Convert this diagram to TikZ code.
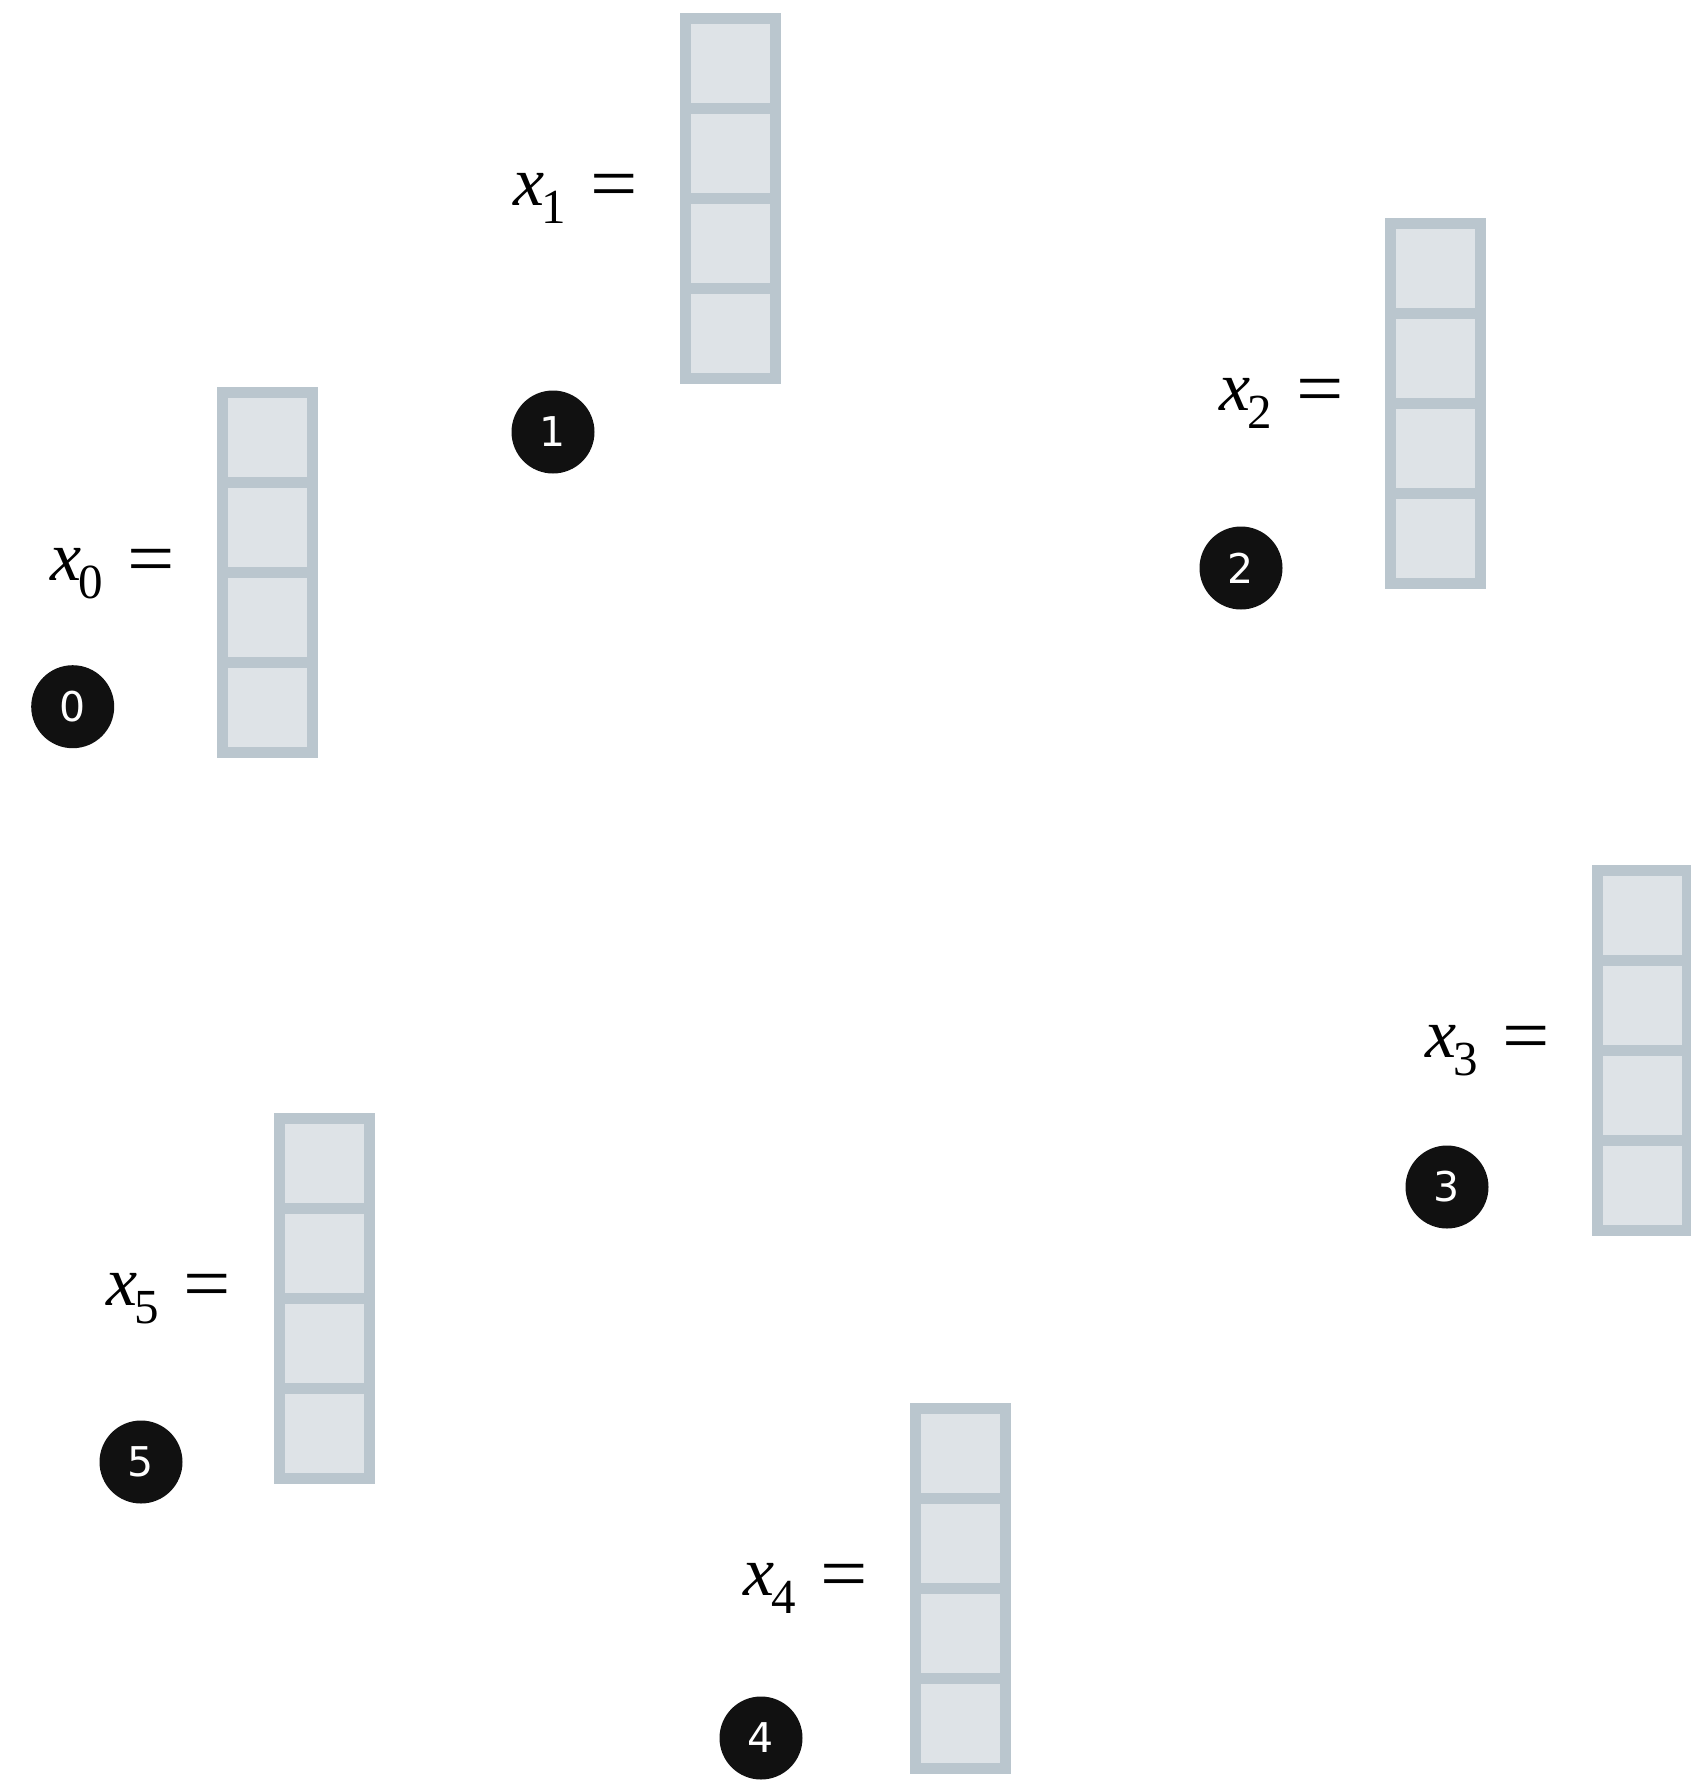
\documentclass[tikz,border=0pt]{standalone}
\usepackage{fontspec}
\usepackage{tikz}
\usetikzlibrary{positioning}
\newfontfamily\numfont{DejaVu Sans}
\newfontfamily\eqfont{Liberation Serif}
\definecolor{cellborder}{RGB}{186,198,206}
\definecolor{cellfill}{RGB}{222,227,231}
\definecolor{badgefill}{RGB}{17,17,17}

\begin{document}
\begin{tikzpicture}[
    x=1pt, y=-1pt,
    cell/.style={
        rectangle, draw=cellborder, fill=cellfill, line width=10.7pt,
        minimum size=90pt, inner sep=0pt, outer sep=0pt
    },
    lbl/.style={anchor=base east, inner sep=0pt, font=\eqfont\fontsize{70}{80}\selectfont},
    badge/.style={
        circle, fill=badgefill, minimum size=83pt, inner sep=0pt,
        text=white, font=\numfont\fontsize{41}{44}\selectfont
    },
]
\useasboundingbox (0,0) rectangle (1690,1786);

% x_0
\node[cell] (c0a) at (267.5, 437.5) {};
\node[cell, below=0pt of c0a] (c0b) {};
\node[cell, below=0pt of c0b] (c0c) {};
\node[cell, below=0pt of c0c] (c0d) {};
\node[lbl] (l0) at (175, 580) {\textit{x}\kern-3pt\raisebox{-18pt}{\fontsize{49}{50}\selectfont 0}\kern24pt\raisebox{-4pt}{\scalebox{1.2}[1.1]{=}}};
\node[badge] (b0) at (72.7, 706.7) {0};

% x_1
\node[cell] (c1a) at (730.5, 63.5) {};
\node[cell, below=0pt of c1a] (c1b) {};
\node[cell, below=0pt of c1b] (c1c) {};
\node[cell, below=0pt of c1c] (c1d) {};
\node[lbl] (l1) at (638, 205) {\textit{x}\kern-3pt\raisebox{-18pt}{\fontsize{49}{50}\selectfont 1}\kern24pt\raisebox{-4pt}{\scalebox{1.2}[1.1]{=}}};
\node[badge] (b1) at (553, 432) {1};

% x_2
\node[cell] (c2a) at (1435.5, 268.5) {};
\node[cell, below=0pt of c2a] (c2b) {};
\node[cell, below=0pt of c2b] (c2c) {};
\node[cell, below=0pt of c2c] (c2d) {};
\node[lbl] (l2) at (1344, 410) {\textit{x}\kern-3pt\raisebox{-18pt}{\fontsize{49}{50}\selectfont 2}\kern24pt\raisebox{-4pt}{\scalebox{1.2}[1.1]{=}}};
\node[badge] (b2) at (1241, 568) {2};

% x_3
\node[cell] (c3a) at (1642.5, 915.5) {};
\node[cell, below=0pt of c3a] (c3b) {};
\node[cell, below=0pt of c3b] (c3c) {};
\node[cell, below=0pt of c3c] (c3d) {};
\node[lbl] (l3) at (1550, 1057) {\textit{x}\kern-3pt\raisebox{-18pt}{\fontsize{49}{50}\selectfont 3}\kern24pt\raisebox{-4pt}{\scalebox{1.2}[1.1]{=}}};
\node[badge] (b3) at (1447, 1187) {3};

% x_4
\node[cell] (c4a) at (960.5, 1453.5) {};
\node[cell, below=0pt of c4a] (c4b) {};
\node[cell, below=0pt of c4b] (c4c) {};
\node[cell, below=0pt of c4c] (c4d) {};
\node[lbl] (l4) at (868, 1595) {\textit{x}\kern-3pt\raisebox{-18pt}{\fontsize{49}{50}\selectfont 4}\kern24pt\raisebox{-4pt}{\scalebox{1.2}[1.1]{=}}};
\node[badge] (b4) at (761, 1738) {4};

% x_5
\node[cell] (c5a) at (324.5, 1163.5) {};
\node[cell, below=0pt of c5a] (c5b) {};
\node[cell, below=0pt of c5b] (c5c) {};
\node[cell, below=0pt of c5c] (c5d) {};
\node[lbl] (l5) at (231, 1305) {\textit{x}\kern-3pt\raisebox{-18pt}{\fontsize{49}{50}\selectfont 5}\kern24pt\raisebox{-4pt}{\scalebox{1.2}[1.1]{=}}};
\node[badge] (b5) at (141, 1462) {5};

\end{tikzpicture}
\end{document}
